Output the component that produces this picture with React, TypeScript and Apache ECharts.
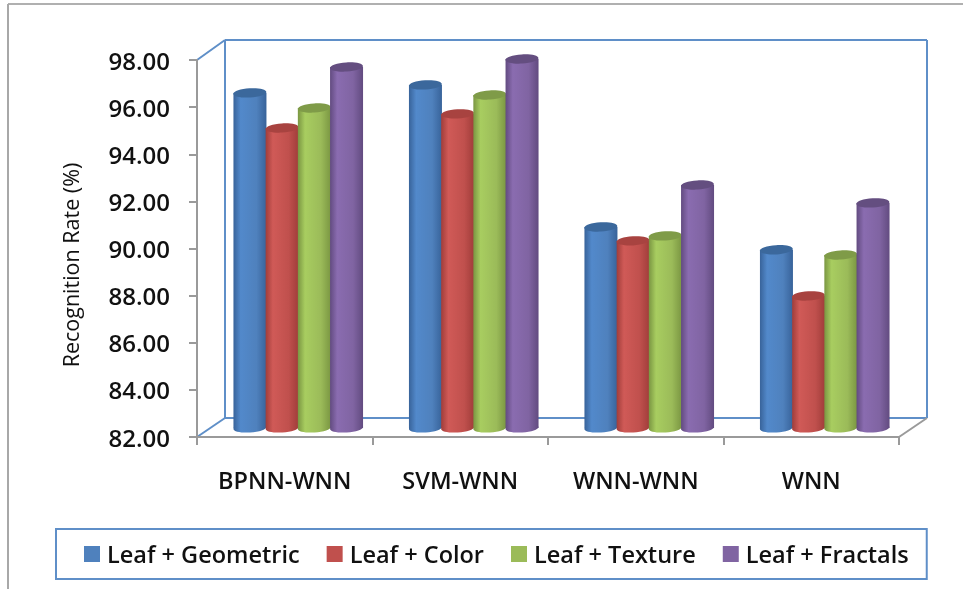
import React, { useEffect, useRef } from "react";
import * as echarts from "echarts";

const categories = ["BPNN-WNN", "SVM-WNN", "WNN-WNN", "WNN"];
const geometric = [96.22, 96.56, 90.53, 89.56];
const color = [94.73, 95.33, 89.94, 87.6];
const texture = [95.58, 96.13, 90.15, 89.34];
const fractals = [97.32, 97.66, 92.31, 91.55];
const seriesNames = ["Leaf + Geometric", "Leaf + Color", "Leaf + Texture", "Leaf + Fractals"];
const seriesValues = [geometric, color, texture, fractals];
const palette = [
  { base: "#4f81bd", edge: "#38639a", mid: "#5289cb", top: "#3b689c" },
  { base: "#c0504d", edge: "#a03d3a", mid: "#d05a57", top: "#a84340" },
  { base: "#9bbb59", edge: "#7a9642", mid: "#a8cd60", top: "#7f9b48" },
  { base: "#8064a2", edge: "#624b80", mid: "#8a6cb0", top: "#644e80" },
];

const DEPTH_X = 13.5;
const DEPTH_Y = -9;
const BAR_W = 33;
const BAR_STEP = 32.2;
const RY = 4.6;
const TILT = 0.06;

const FRAME = "#5f8fc8";
const GREY = "#9a9a9a";
const TEXT = "#111111";
const FONT = "'Open Sans'";

const line = (x1: number, y1: number, x2: number, y2: number, stroke: string) => ({
  type: "line",
  z: 0,
  silent: true,
  shape: { x1, y1, x2, y2 },
  style: { stroke, lineWidth: 2 },
});

export default function App() {
  const ref = useRef<HTMLDivElement>(null);
  useEffect(() => {
    const chart = echarts.init(ref.current!, undefined, { renderer: "svg" });
    const renderItem = (params: any, api: any) => {
      const si = params.seriesIndex;
      const p = palette[si];
      const top = api.coord([api.value(0), api.value(1)]);
      const base = api.coord([api.value(0), 82]);
      const cx = top[0] + DEPTH_X + (si - 1.5) * BAR_STEP;
      const yTop = top[1] + DEPTH_Y;
      const yBase = base[1] + DEPTH_Y;
      const rx = BAR_W / 2;
      const fill = new echarts.graphic.LinearGradient(0, 0, 1, 0, [
        { offset: 0, color: p.edge },
        { offset: 0.22, color: p.mid },
        { offset: 0.7, color: p.base },
        { offset: 1, color: p.edge },
      ]);
      return {
        type: "group",
        children: [
          {
            type: "ellipse",
            shape: { cx, cy: yBase, rx, ry: RY },
            rotation: TILT,
            originX: cx,
            originY: yBase,
            style: { fill },
          },
          { type: "rect", shape: { x: cx - rx, y: yTop, width: BAR_W, height: yBase - yTop }, style: { fill } },
          {
            type: "ellipse",
            shape: { cx, cy: yTop, rx, ry: RY },
            rotation: TILT,
            originX: cx,
            originY: yTop,
            style: { fill: p.top },
          },
        ],
      };
    };
    chart.setOption({
      animation: false,
      backgroundColor: "#ffffff",
      grid: { left: 197, right: 64, top: 60, bottom: 152, containLabel: false },
      legend: {
        left: 56,
        top: 529,
        data: seriesNames,
        icon: "rect",
        itemWidth: 16,
        itemHeight: 16,
        itemGap: 27,
        padding: [13, 18, 13, 28],
        borderColor: FRAME,
        borderWidth: 2,
        textStyle: { fontFamily: FONT, fontWeight: 600, fontSize: 23.5, color: TEXT, padding: [0, 0, 0, 2] },
      },
      xAxis: {
        type: "category",
        data: categories,
        axisLine: { lineStyle: { color: GREY, width: 2 } },
        axisTick: { show: true, length: 8, lineStyle: { color: GREY, width: 2 } },
        axisLabel: { margin: 31, fontFamily: FONT, fontWeight: 600, fontSize: 23.5, color: TEXT },
      },
      yAxis: {
        type: "value",
        min: 82,
        max: 98,
        interval: 2,
        name: "Recognition Rate (%)",
        nameLocation: "middle",
        nameGap: 116,
        nameTextStyle: { fontFamily: FONT, fontSize: 21.5, color: TEXT, padding: [0, 0, 0, -33] },
        splitLine: { show: false },
        axisLine: { show: true, lineStyle: { color: GREY, width: 2 } },
        axisTick: { show: true, length: 8, lineStyle: { color: GREY, width: 2 } },
        axisLabel: {
          margin: 27,
          fontFamily: FONT,
          fontWeight: 600,
          fontSize: 24,
          color: TEXT,
          padding: [10, 0, 0, 0],
          formatter: (v: number) => v.toFixed(2),
        },
      },
      graphic: [
        line(8, 4, 963, 4, "#b0b0b0"),
        line(8, 4, 8, 589, "#a8a8a8"),
        line(225, 40, 927, 40, FRAME),
        line(225, 40, 225, 418, FRAME),
        line(927, 40, 927, 418, FRAME),
        line(225, 418, 927, 418, FRAME),
        line(197, 60, 225, 40, FRAME),
        line(197, 437, 225, 418, FRAME),
        line(899, 437, 927, 418, GREY),
      ],
      series: seriesNames.map((name, i) => ({
        name,
        type: "custom",
        z: 3,
        clip: false,
        itemStyle: { color: palette[i].base },
        encode: { x: 0, y: 1 },
        renderItem,
        data: categories.map((_, c) => [c, seriesValues[i][c]]),
      })),
    });
    return () => chart.dispose();
  }, []);
  return (
    <div
      ref={ref}
      style={{ position: "fixed", left: 0, top: 0, width: 963, height: 589, filter: "blur(0.5px)" }}
    />
  );
}
